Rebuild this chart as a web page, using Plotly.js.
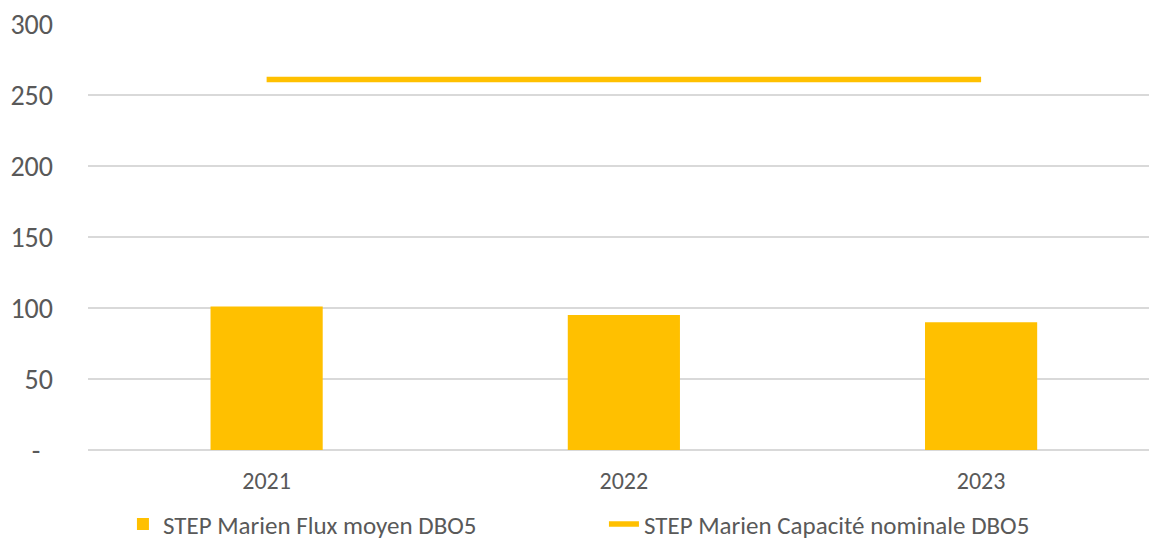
<!DOCTYPE html>
<html>
<head>
<meta charset="utf-8">
<script src="https://cdn.plot.ly/plotly-3.0.1.min.js"></script>
<style>html,body{margin:0;padding:0;background:#fff;}#chart{width:1149px;height:549px;}</style>
</head>
<body>
<div id="chart"></div>
<script>
const years = ['2021', '2022', '2023'];
const fluxMoyen = [101, 95, 90];
const capaciteNominale = [261, 261, 261];
const yTickVals = [0, 50, 100, 150, 200, 250, 300];
const yTickText = ['-\u00a0\u00a0', '50', '100', '150', '200', '250', '300'];
const seriesNames = ['STEP Marien Flux moyen DBO5', 'STEP Marien Capacité nominale DBO5'];

const FONT = 'Calibri, Carlito, Lato, "Open Sans", sans-serif';
const GOLD = '#FFC000';
const TXT = '#595959';

const traces = [
  {
    type: 'bar', x: [0, 1, 2], y: fluxMoyen, name: seriesNames[0],
    width: 0.314, marker: {color: GOLD, line: {width: 0}}, hoverinfo: 'skip'
  },
  {
    type: 'scatter', mode: 'lines', x: [0, 1, 2], y: capaciteNominale, name: seriesNames[1],
    line: {color: GOLD, width: 5.5}, hoverinfo: 'skip'
  }
];

const layout = {
  width: 1149, height: 549,
  margin: {l: 88, r: 0, t: 23.5, b: 98.5},
  paper_bgcolor: '#fff', plot_bgcolor: '#fff',
  font: {family: FONT, color: TXT},
  showlegend: true,
  legend: {
    orientation: 'h', xref: 'container', yref: 'container',
    x: 0.107, xanchor: 'left', y: 0.045, yanchor: 'middle',
    font: {family: FONT, size: 25, color: TXT}, entrywidth: 436, traceorder: 'normal'
  },
  xaxis: {
    type: 'linear', range: [-0.5, 2.47],
    tickvals: [0, 1, 2], ticktext: years,
    tickfont: {family: FONT, size: 24, color: TXT},
    showgrid: false, zeroline: false, showline: false, ticks: '', ticklabelstandoff: 14
  },
  yaxis: {
    range: [0, 300], tickvals: yTickVals, ticktext: yTickText,
    tickfont: {family: FONT, size: 28, color: TXT},
    showgrid: true, gridcolor: '#D9D9D9', gridwidth: 1.3,
    zeroline: true, zerolinecolor: '#D9D9D9', zerolinewidth: 1.3,
    showline: false, ticks: '', ticklabelstandoff: 34
  }
};

Plotly.newPlot('chart', traces, layout, {staticPlot: true, displayModeBar: false});
</script>
</body>
</html>
